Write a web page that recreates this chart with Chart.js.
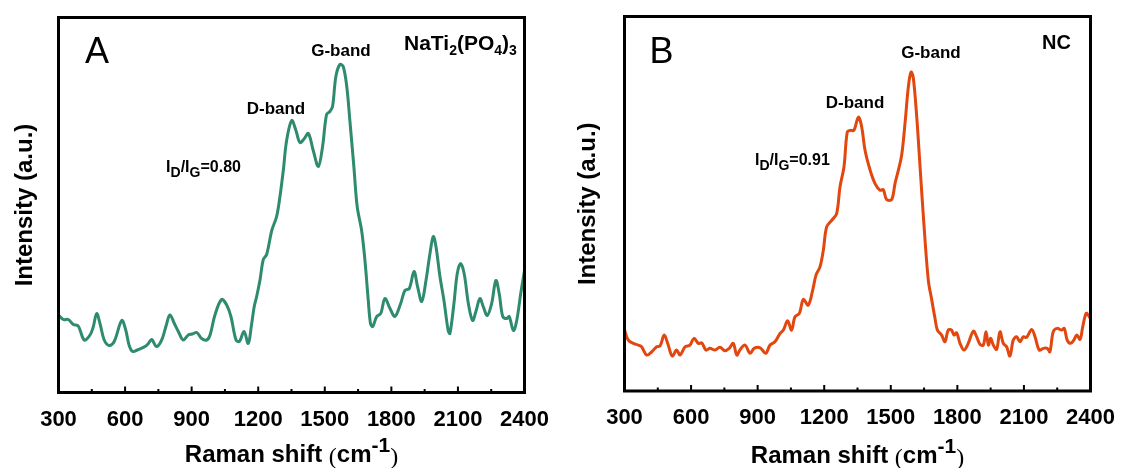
<!DOCTYPE html>
<html>
<head>
<meta charset="utf-8">
<title>Raman spectra</title>
<script src="https://cdn.jsdelivr.net/npm/chart.js@4.4.1/dist/chart.umd.min.js"></script>
<style>
    html, body { margin: 0; padding: 0; background: #fff; }
    #wrap { position: relative; width: 1121px; height: 468px; overflow: hidden; }
    .panel { position: absolute; top: 0; height: 468px; }
</style>
</head>
<body>
<div id="wrap">
    <div class="panel" style="left:0;width:560px"><canvas id="chart-a" width="560" height="468"></canvas></div>
    <div class="panel" style="left:560px;width:561px"><canvas id="chart-b" width="561" height="468"></canvas></div>
</div>
<script>
var xTicks = [300, 600, 900, 1200, 1500, 1800, 2100, 2400];

// panel A - NaTi2(PO4)3
var ramanShiftA = [300, 322, 344, 367, 389, 416, 442, 457, 472, 487,
    506, 529, 551, 585, 603, 618, 634, 660, 690, 705,
    720, 742, 765, 784, 802, 822, 840, 862, 885, 903,
    923, 945, 968, 983, 1005, 1035, 1058, 1077, 1100, 1115,
    1136, 1155, 1170, 1182, 1193, 1208, 1223, 1238, 1261, 1283,
    1298, 1313, 1328, 1351, 1370, 1388, 1408, 1426, 1448, 1471,
    1490, 1508, 1523, 1535, 1550, 1568, 1583, 1599, 1613, 1631,
    1646, 1666, 1681, 1696, 1706, 1716, 1734, 1752, 1771, 1794,
    1816, 1842, 1861, 1881, 1902, 1918, 1937, 1956, 1974, 1989,
    2001, 2019, 2037, 2056, 2064, 2082, 2097, 2112, 2128, 2147,
    2166, 2181, 2199, 2214, 2232, 2252, 2271, 2286, 2302, 2320,
    2331, 2350, 2365, 2383, 2400];
var intensityA = [77.5, 73, 73, 68, 66.5, 52.5, 57.5, 66, 79, 69,
    52.5, 47, 51, 72, 62.5, 47.5, 41, 43, 46, 49,
    53, 46, 52.5, 66, 77.5, 69, 61, 52.5, 57.5, 58.5,
    60, 54, 52.5, 57.5, 77.5, 93, 87.5, 76, 52.5, 51,
    61, 49, 68, 86, 96, 112.5, 133, 138, 162, 176,
    196, 222, 252, 272, 262, 250, 254, 259, 242, 226,
    246, 278, 281, 286, 316, 328, 326, 306, 272, 226,
    186, 162, 132, 92, 69, 66, 76, 79, 94, 84,
    76, 89, 102, 104, 121, 106, 91, 112, 139, 156,
    146, 116, 92, 62, 59, 89, 119, 129, 119, 89,
    72, 81, 94, 86, 77, 89, 112, 99, 76, 74,
    76, 62, 72, 99, 122];

// panel B - NC
var ramanShiftB = [300, 317, 340, 362, 377, 400, 423, 445, 460, 479,
    497, 515, 535, 550, 573, 595, 613, 633, 648, 667,
    685, 708, 730, 753, 772, 790, 806, 820, 843, 866,
    884, 911, 936, 956, 978, 1001, 1016, 1035, 1053, 1068,
    1088, 1106, 1128, 1148, 1163, 1181, 1196, 1211, 1234, 1256,
    1271, 1289, 1304, 1319, 1334, 1354, 1369, 1384, 1407, 1429,
    1452, 1466, 1481, 1504, 1519, 1534, 1549, 1564, 1579, 1591,
    1601, 1617, 1632, 1647, 1669, 1684, 1699, 1710, 1729, 1744,
    1759, 1774, 1785, 1797, 1812, 1830, 1849, 1872, 1887, 1902,
    1917, 1929, 1940, 1950, 1962, 1977, 1992, 2007, 2022, 2037,
    2052, 2067, 2082, 2097, 2112, 2135, 2150, 2169, 2187, 2205,
    2217, 2232, 2250, 2270, 2282, 2295, 2311, 2325, 2338, 2353,
    2365, 2380, 2390, 2400];
var intensityB = [61, 51, 47.7, 46, 44.3, 36, 39.3, 44.3, 45, 56,
    46, 35, 41, 36, 44.3, 46, 52.7, 47.7, 48.3, 41,
    42.7, 41, 43.7, 40.3, 42.7, 47.7, 36, 41, 46, 37.7,
    42.7, 43.3, 37.7, 46, 49.3, 57.7, 61, 70.3, 61, 74.3,
    77.7, 91.7, 86, 101, 116, 124.3, 141, 164.3, 171, 177.7,
    204.3, 224.3, 259.3, 261, 261, 274.3, 264.3, 241, 221, 207.7,
    201, 201.7, 191.7, 191.7, 207.7, 221, 236, 267.7, 304.3, 319.3,
    314.3, 274.3, 224.3, 174.3, 111, 92, 73, 61, 56, 49.3,
    61, 61, 56, 58.3, 47.7, 41, 47.7, 60, 54.3, 46.7,
    46, 59.3, 46, 52.7, 46, 41.7, 59.3, 47.7, 44.3, 35,
    51, 54.3, 49.3, 54.3, 53.7, 61.7, 54.3, 41, 42.7, 42.7,
    39.3, 59.3, 62.7, 61, 62.7, 51, 47.7, 51, 56, 51.7,
    64.3, 77.7, 76, 72];

var RamanFigure = (function () {
    var obj = {};
    var SANS = '"Liberation Sans", Arial, sans-serif';
    var SERIF = '"Liberation Serif", "Times New Roman", serif';

    function f(size, bold, family) {
        return (bold ? 'bold ' : '') + size + 'px ' + (family || SANS);
    }

    obj.init = function () {
        crearPanel('chart-a', ramanShiftA, intensityA, {
            color: '#2e8b6f',
            padding: { left: 0, top: 17.5, right: 35.5, bottom: 0 },
            yWidth: 58.5,
            xHeight: 75.5,
            titlePad: 11,
            titleOffset: 69.5,
            notes: [
                { x: 473, y: 329.5, align: 'center', parts: [{ t: 'A', font: f(36, false) }] },
                { x: 1857, y: 342.5, align: 'left', parts: [
                    { t: 'NaTi', font: f(21, true) },
                    { t: '2', font: f(14, true), dy: 5 },
                    { t: '(PO', font: f(21, true) },
                    { t: '4', font: f(14, true), dy: 5 },
                    { t: ')', font: f(21, true) },
                    { t: '3', font: f(14, true), dy: 5 }
                ] },
                { x: 1573, y: 336.5, align: 'center', parts: [{ t: 'G-band', font: f(17, true) }] },
                { x: 1280, y: 278.5, align: 'center', parts: [{ t: 'D-band', font: f(17, true) }] },
                { x: 785, y: 220.5, align: 'left', parts: ratioParts('0.80') }
            ]
        });

        crearPanel('chart-b', ramanShiftB, intensityB, {
            color: '#e2470f',
            padding: { left: 0, top: 16.5, right: 30.5, bottom: 0 },
            yWidth: 64.5,
            xHeight: 77,
            titlePad: 14,
            titleOffset: 72,
            notes: [
                { x: 467, y: 328, align: 'center', parts: [{ t: 'B', font: f(36, false) }] },
                { x: 2247, y: 342, align: 'center', parts: [{ t: 'NC', font: f(20, true) }] },
                { x: 1681, y: 333.3, align: 'center', parts: [{ t: 'G-band', font: f(17, true) }] },
                { x: 1339, y: 283.3, align: 'center', parts: [{ t: 'D-band', font: f(17, true) }] },
                { x: 888, y: 226, align: 'left', parts: ratioParts('0.91') }
            ]
        });
    };

    function ratioParts(value) {
        return [
            { t: 'I', font: f(16, true) },
            { t: 'D', font: f(14, true), dy: 5 },
            { t: '/I', font: f(16, true) },
            { t: 'G', font: f(14, true), dy: 5 },
            { t: '=' + value, font: f(16, true) }
        ];
    }

    function xTitleParts() {
        return [
            { t: 'Raman shift ', font: f(24, true) },
            { t: '(', font: f(24, false, SERIF), dy: 2 },
            { t: 'cm', font: f(24, true) },
            { t: '-1', font: f(21, true), dy: -10 },
            { t: ')', font: f(24, false, SERIF), dy: 2 }
        ];
    }

    function drawRich(ctx, parts, x, y, align) {
        var total = 0;
        parts.forEach(function (p) {
            ctx.font = p.font;
            total += ctx.measureText(p.t).width;
        });
        var cx = align === 'center' ? x - total / 2 : x;
        ctx.textAlign = 'left';
        ctx.textBaseline = 'alphabetic';
        ctx.fillStyle = '#000';
        parts.forEach(function (p) {
            ctx.font = p.font;
            ctx.fillText(p.t, cx, y + (p.dy || 0));
            cx += ctx.measureText(p.t).width;
        });
    }

    function framePlugin(cfg) {
        return {
            id: 'frame',
            afterDraw: function (chart) {
                var ctx = chart.ctx;
                var area = chart.chartArea;
                var xs = chart.scales.x;
                var ys = chart.scales.y;

                ctx.save();
                ctx.strokeStyle = '#000';
                ctx.lineWidth = 3;
                ctx.strokeRect(area.left, area.top, area.right - area.left, area.bottom - area.top);

                // inward ticks on the bottom axis, minor every 150
                ctx.lineWidth = 2;
                for (var v = xTicks[0]; v <= xTicks[xTicks.length - 1]; v += 150) {
                    var px = xs.getPixelForValue(v);
                    var len = xTicks.indexOf(v) >= 0 ? 6 : 3.5;
                    ctx.beginPath();
                    ctx.moveTo(px, area.bottom);
                    ctx.lineTo(px, area.bottom - len);
                    ctx.stroke();
                }

                cfg.notes.forEach(function (n) {
                    drawRich(ctx, n.parts, xs.getPixelForValue(n.x), ys.getPixelForValue(n.y), n.align);
                });

                drawRich(ctx, xTitleParts(), (area.left + area.right) / 2, area.bottom + cfg.titleOffset, 'center');
                ctx.restore();
            }
        };
    }

    function crearPanel(id, shifts, values, cfg) {
        var ctx = document.getElementById(id).getContext('2d');
        var points = shifts.map(function (s, i) {
            return { x: s, y: values[i] };
        });

        return new Chart(ctx, {
            type: 'line',
            data: {
                datasets: [{
                    data: points,
                    borderColor: cfg.color,
                    borderWidth: 3,
                    pointRadius: 0,
                    tension: 0.35,
                    fill: false
                }]
            },
            options: {
                responsive: false,
                animation: false,
                devicePixelRatio: 1,
                layout: { padding: cfg.padding },
                plugins: {
                    legend: { display: false },
                    tooltip: { enabled: false }
                },
                scales: {
                    x: {
                        type: 'linear',
                        min: xTicks[0],
                        max: xTicks[xTicks.length - 1],
                        grid: { display: false },
                        border: { display: false },
                        afterBuildTicks: function (scale) {
                            scale.ticks = xTicks.map(function (v) { return { value: v }; });
                        },
                        afterFit: function (scale) { scale.height = cfg.xHeight; },
                        ticks: {
                            autoSkip: false,
                            maxRotation: 0,
                            padding: 6,
                            color: '#000',
                            font: { family: SANS, size: 22, weight: 'bold' },
                            callback: function (value) { return String(value); }
                        }
                    },
                    y: {
                        type: 'linear',
                        min: 0,
                        max: 375,
                        grid: { display: false },
                        border: { display: false },
                        ticks: { display: false },
                        afterFit: function (scale) { scale.width = cfg.yWidth; },
                        title: {
                            display: true,
                            text: 'Intensity (a.u.)',
                            color: '#000',
                            padding: { top: cfg.titlePad, bottom: 0 },
                            font: { family: SANS, size: 24, weight: 'bold' }
                        }
                    }
                }
            },
            plugins: [framePlugin(cfg)]
        });
    }

    return obj;
}());

RamanFigure.init();
</script>
</body>
</html>
